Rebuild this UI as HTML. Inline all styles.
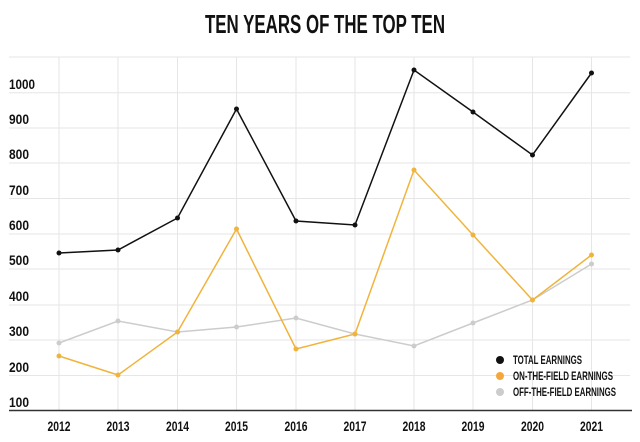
<!DOCTYPE html>
<html><head><meta charset="utf-8"><style>body{margin:0;background:#fff}svg{display:block}</style></head>
<body>
<svg width="640" height="442" xmlns="http://www.w3.org/2000/svg" font-family="Liberation Sans, sans-serif" font-weight="bold">
<text x="205" y="33" font-size="26" textLength="240" lengthAdjust="spacingAndGlyphs" fill="#111">TEN YEARS OF THE TOP TEN</text>
<g stroke="#e6e6e6" stroke-width="1">
<line x1="9" y1="57" x2="630" y2="57"/><line x1="9" y1="92.7" x2="630" y2="92.7"/><line x1="9" y1="128" x2="630" y2="128"/><line x1="9" y1="163" x2="630" y2="163"/><line x1="9" y1="198.5" x2="630" y2="198.5"/><line x1="9" y1="234" x2="630" y2="234"/><line x1="9" y1="269" x2="630" y2="269"/><line x1="9" y1="305" x2="630" y2="305"/><line x1="9" y1="340" x2="630" y2="340"/><line x1="9" y1="375.5" x2="630" y2="375.5"/>
<line x1="59" y1="57" x2="59" y2="410"/><line x1="118" y1="57" x2="118" y2="410"/><line x1="177.5" y1="57" x2="177.5" y2="410"/><line x1="236.5" y1="57" x2="236.5" y2="410"/><line x1="296" y1="57" x2="296" y2="410"/><line x1="355" y1="57" x2="355" y2="410"/><line x1="414" y1="57" x2="414" y2="410"/><line x1="473" y1="57" x2="473" y2="410"/><line x1="532.5" y1="57" x2="532.5" y2="410"/><line x1="591.5" y1="57" x2="591.5" y2="410"/>
</g>
<line x1="9" y1="410.5" x2="632" y2="410.5" stroke="#333" stroke-width="1.5"/>
<g font-size="14" fill="#111">
<text x="9" y="89" textLength="26" lengthAdjust="spacingAndGlyphs">1000</text>
<text x="9" y="124" textLength="20" lengthAdjust="spacingAndGlyphs">900</text>
<text x="9" y="159" textLength="20" lengthAdjust="spacingAndGlyphs">800</text>
<text x="9" y="195" textLength="20" lengthAdjust="spacingAndGlyphs">700</text>
<text x="9" y="230" textLength="20" lengthAdjust="spacingAndGlyphs">600</text>
<text x="9" y="265" textLength="20" lengthAdjust="spacingAndGlyphs">500</text>
<text x="9" y="301" textLength="20" lengthAdjust="spacingAndGlyphs">400</text>
<text x="9" y="336" textLength="20" lengthAdjust="spacingAndGlyphs">300</text>
<text x="9" y="372" textLength="20" lengthAdjust="spacingAndGlyphs">200</text>
<text x="9" y="407" textLength="20" lengthAdjust="spacingAndGlyphs">100</text>
</g>
<g font-size="14" fill="#111" text-anchor="middle">
<text x="59" y="431" textLength="23" lengthAdjust="spacingAndGlyphs">2012</text><text x="118" y="431" textLength="23" lengthAdjust="spacingAndGlyphs">2013</text><text x="177.5" y="431" textLength="23" lengthAdjust="spacingAndGlyphs">2014</text><text x="236.5" y="431" textLength="23" lengthAdjust="spacingAndGlyphs">2015</text><text x="296" y="431" textLength="23" lengthAdjust="spacingAndGlyphs">2016</text><text x="355" y="431" textLength="23" lengthAdjust="spacingAndGlyphs">2017</text><text x="414" y="431" textLength="23" lengthAdjust="spacingAndGlyphs">2018</text><text x="473" y="431" textLength="23" lengthAdjust="spacingAndGlyphs">2019</text><text x="532.5" y="431" textLength="23" lengthAdjust="spacingAndGlyphs">2020</text><text x="591.5" y="431" textLength="23" lengthAdjust="spacingAndGlyphs">2021</text>
</g>
<polyline fill="none" stroke="#cccccc" stroke-width="1.5" points="59,343 118,321 177.5,332 236.5,327 296,318 355,334 414,346 473,323 532.5,300 591.5,264"/>
<polyline fill="none" stroke="#f0b43c" stroke-width="1.5" points="59,356 118,375 177.5,332 236.5,229 296,349 355,334 414,170 473,235 532.5,300 591.5,255"/>
<polyline fill="none" stroke="#111" stroke-width="1.5" points="59,253 118,250 177.5,218 236.5,109 296,221 355,225 414,70 473,112 532.5,155 591.5,73"/>
<g fill="#cccccc"><circle cx="59" cy="343" r="2.5"/><circle cx="118" cy="321" r="2.5"/><circle cx="177.5" cy="332" r="2.5"/><circle cx="236.5" cy="327" r="2.5"/><circle cx="296" cy="318" r="2.5"/><circle cx="355" cy="334" r="2.5"/><circle cx="414" cy="346" r="2.5"/><circle cx="473" cy="323" r="2.5"/><circle cx="532.5" cy="300" r="2.5"/><circle cx="591.5" cy="264" r="2.5"/></g>
<g fill="#f0b43c"><circle cx="59" cy="356" r="2.5"/><circle cx="118" cy="375" r="2.5"/><circle cx="177.5" cy="332" r="2.5"/><circle cx="236.5" cy="229" r="2.5"/><circle cx="296" cy="349" r="2.5"/><circle cx="355" cy="334" r="2.5"/><circle cx="414" cy="170" r="2.5"/><circle cx="473" cy="235" r="2.5"/><circle cx="532.5" cy="300" r="2.5"/><circle cx="591.5" cy="255" r="2.5"/></g>
<g fill="#111"><circle cx="59" cy="253" r="2.5"/><circle cx="118" cy="250" r="2.5"/><circle cx="177.5" cy="218" r="2.5"/><circle cx="236.5" cy="109" r="2.5"/><circle cx="296" cy="221" r="2.5"/><circle cx="355" cy="225" r="2.5"/><circle cx="414" cy="70" r="2.5"/><circle cx="473" cy="112" r="2.5"/><circle cx="532.5" cy="155" r="2.5"/><circle cx="591.5" cy="73" r="2.5"/></g>
<circle cx="500" cy="360" r="4" fill="#111"/><circle cx="500" cy="376" r="4" fill="#f5a83a"/><circle cx="500" cy="392" r="4" fill="#cccccc"/>
<g font-size="12" fill="#111">
<text x="513" y="364" textLength="69" lengthAdjust="spacingAndGlyphs">TOTAL EARNINGS</text>
<text x="513" y="380" textLength="100" lengthAdjust="spacingAndGlyphs">ON-THE-FIELD EARNINGS</text>
<text x="513" y="396" textLength="103" lengthAdjust="spacingAndGlyphs">OFF-THE-FIELD EARNINGS</text>
</g>
</svg>
</body></html>
